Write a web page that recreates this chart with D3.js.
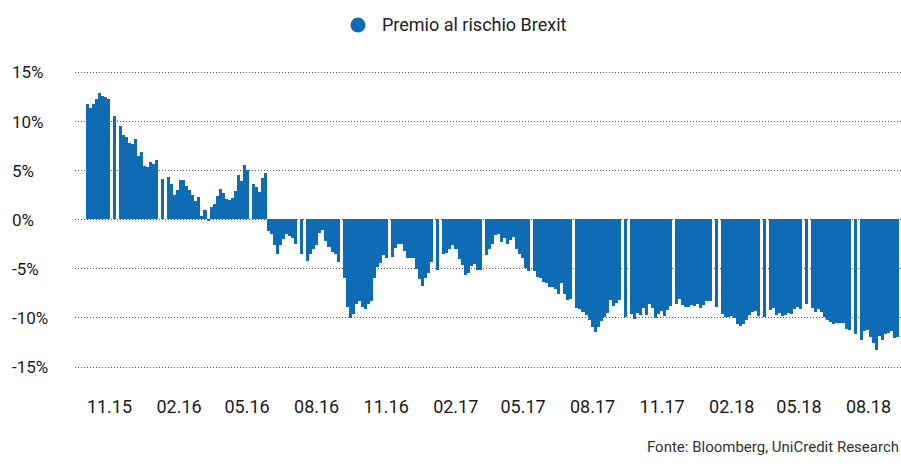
<!DOCTYPE html>
<html>
<head>
<meta charset="utf-8">
<script src="https://cdn.jsdelivr.net/npm/d3@7"></script>
<style>
  body { margin: 0; background: #fff; }
  svg { display: block; font-family: Roboto, 'Noto Sans', sans-serif; }
</style>
</head>
<body>
<svg width="901" height="473"></svg>
<script>
const width = 901
const height = 473

const seriesName = 'Premio al rischio Brexit'
const source = 'Fonte: Bloomberg, UniCredit Research'

// one reading every 4 days, starting 1 Oct 2015 (null = no data)
const firstDay = new Date(2015, 9, 1)
const stepDays = 4

const premio = [
  11.7, 11.3, 11.7, 12.2, 12.8, 12.55, 12.4, 12.2, null, 10.5,
  null, 9.5, 8.5, 8.3, 7.7, 7.6, 8.1, 6.4, 6.8, 5.35,
  5.3, 5.8, 5.6, 6.0, null, 4.1, null, 4.3, 3.6, 2.4,
  3.0, 4.0, 4.0, 3.4, 2.95, 2.4, 1.8, 2.2, 0.3, 0.9,
  -0.2, 1.25, 1.5, 2.3, 3.05, 2.6, 2.0, 1.9, 2.1, 2.8,
  4.5, 3.9, 5.5, 5.0, null, 3.55, 3.3, 2.7, 4.2, 4.65,
  -1.2, -1.5, -2.6, -3.6, -2.6, -2.0, -1.5, -1.7, -1.95, -2.5,
  null, -3.6, null, -4.25, -3.6, -3.05, -2.6, -1.4, -1.15, -2.2,
  -2.8, -3.4, -3.55, -4.4, null, -6.05, -8.95, -10.1, -9.7, -8.6,
  -8.3, -8.95, -9.2, -8.6, -8.3, -6.0, -4.9, -4.5, -3.7, -4.0,
  null, -3.9, -2.9, -2.5, -2.5, -3.3, -4.0, -4.0, -4.0, -5.1,
  -6.1, -6.8, -6.0, -5.5, -4.4, null, -5.2, null, -3.55, -3.5,
  -3.1, -2.65, -3.1, -4.1, -4.7, -5.7, -5.5, -4.8, -4.55, -5.2,
  -5.15, null, -3.7, -3.0, -2.5, -1.6, -1.5, -2.3, -1.9, -2.5,
  -2.1, -1.8, -3.0, -3.6, -4.0, -5.0, -5.3, null, -5.3, -5.9,
  -6.0, -6.45, -6.5, -6.9, -6.95, -7.1, -7.6, -6.5, -7.6, -8.2,
  -8.1, null, -9.0, -9.2, -9.5, -9.75, -10.3, -11.0, -11.45, -11.0,
  -10.4, -10.0, -9.6, -8.2, -8.8, -8.5, -8.25, null, -10.0, null,
  -9.7, -10.2, -9.6, -9.8, -9.0, -9.8, -8.6, -9.1, -10.05, -9.7,
  -9.4, -9.9, -9.3, -8.8, null, -8.6, -8.1, -8.7, -8.95, -8.9,
  -8.75, -8.8, -8.6, -9.1, -8.7, -8.3, -8.35, null, -8.9, null,
  -9.7, -10.0, -9.95, -9.85, -10.1, -10.7, -10.9, -10.7, -10.3, -9.8,
  -9.45, -9.35, -9.9, null, -10.0, null, -9.3, -9.0, -9.8, -9.6,
  -9.9, -9.8, -9.6, -9.7, -9.2, -8.95, -9.2, null, -8.6, null,
  -9.05, -9.5, -9.2, -9.5, -10.0, -10.3, -10.45, -10.65, -10.6, -10.6,
  -10.6, -11.2, -11.25, null, -11.7, null, -12.3, -11.4, -11.25, -12.05,
  -12.6, -13.3, -11.9, -12.3, -11.65, -11.6, -11.35, -12.1, -12.0, null,
  -11.3
]

const tickLabels = ['11.15', '02.16', '05.16', '08.16', '11.16', '02.17', '05.17', '08.17', '11.17', '02.18', '05.18', '08.18']
const yTicks = [-15, -10, -5, 0, 5, 10, 15]

const blue = '#0f6bb3'

const parseTick = d3.timeParse('%m.%y')
const data = premio.map((v, i) => ({
  date: d3.timeDay.offset(firstDay, i * stepDays),
  value: v
}))

const svg = d3.select('svg')

// scales
const x = d3.scaleTime()
  .domain([new Date(2015, 10, 1), new Date(2018, 7, 1)])
  .range([109, 868])

const y = d3.scaleLinear()
  .domain([-15, 15])
  .range([366.5, 71.5])

const px = v => Math.round(v)

// dotted grid
svg.append('g')
  .selectAll('line')
  .data(yTicks)
  .enter().append('line')
  .attr('x1', 75)
  .attr('x2', width)
  .attr('y1', d => px(y(d)) + 0.5)
  .attr('y2', d => px(y(d)) + 0.5)
  .attr('stroke', '#555')
  .attr('stroke-width', 1)
  .attr('stroke-dasharray', '1,2')
  .attr('shape-rendering', 'crispEdges')

// bars
svg.append('g')
  .attr('shape-rendering', 'crispEdges')
  .selectAll('rect')
  .data(data.filter(d => d.value !== null))
  .enter().append('rect')
  .attr('x', d => px(x(d.date)))
  .attr('width', d => px(x(d3.timeDay.offset(d.date, stepDays))) - px(x(d.date)))
  .attr('y', d => px(Math.min(y(d.value), y(0))))
  .attr('height', d => Math.abs(px(y(d.value)) - px(y(0))))
  .attr('fill', blue)

// y axis labels
const yAxis = d3.axisRight(y)
  .tickValues(yTicks)
  .tickFormat(d => d + '%')
  .tickSize(0)
  .tickPadding(0)

svg.append('g')
  .attr('transform', 'translate(12, 1)')
  .call(yAxis)
  .call(g => g.select('.domain').remove())
  .selectAll('text')
  .attr('font-family', 'Roboto, sans-serif')
  .attr('font-size', 17)
  .attr('fill', '#1a1a1a')

// x axis labels
const xAxis = d3.axisBottom(x)
  .tickValues(tickLabels.map(parseTick))
  .tickFormat(d3.timeFormat('%m.%y'))
  .tickSize(0)
  .tickPadding(0)

svg.append('g')
  .attr('transform', 'translate(0, 400)')
  .call(xAxis)
  .call(g => g.select('.domain').remove())
  .selectAll('text')
  .attr('font-family', 'Roboto, sans-serif')
  .attr('font-size', 18)
  .attr('fill', '#1a1a1a')

// legend
const legend = svg.append('g')
  .attr('transform', 'translate(358, 25)')

legend.append('circle')
  .attr('r', 7.5)
  .attr('fill', blue)

legend.append('text')
  .attr('x', 24)
  .attr('dy', '0.35em')
  .attr('font-size', 18)
  .attr('fill', '#222')
  .text(seriesName)

// source
svg.append('text')
  .attr('x', 899)
  .attr('y', 452)
  .attr('text-anchor', 'end')
  .attr('font-size', 15)
  .attr('fill', '#333')
  .text(source)
</script>
</body>
</html>
